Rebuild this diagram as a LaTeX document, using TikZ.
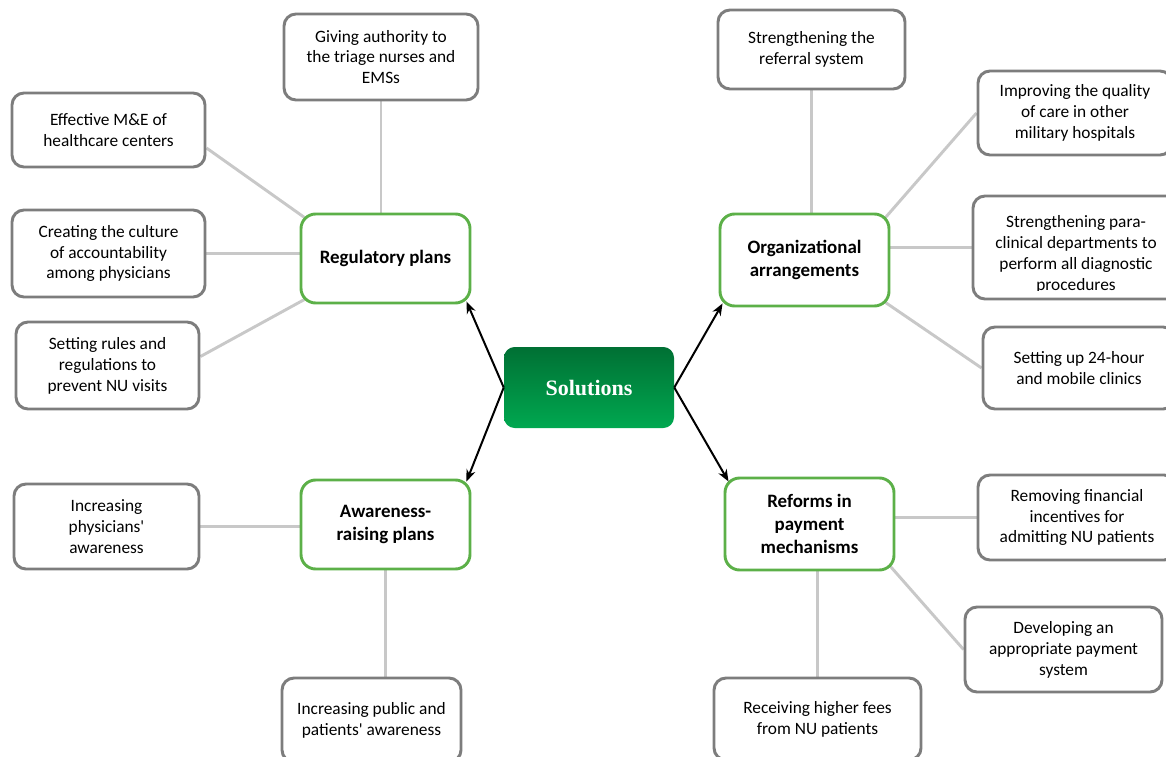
\documentclass[tikz,border=0pt]{standalone}
\usepackage{fontspec}
\setmainfont{Carlito}
\newfontfamily\solfont{Liberation Serif}
\usetikzlibrary{calc,arrows.meta}
\pgfdeclarelayer{background}
\pgfsetlayers{background,main}
\definecolor{boxgray}{RGB}{125,125,125}
\definecolor{linegray}{RGB}{200,200,200}
\definecolor{plangreen}{RGB}{92,176,72}
\definecolor{soldark}{RGB}{0,112,52}
\definecolor{sollight}{RGB}{0,168,80}
\newcommand{\sq}{\textquotesingle}
\tikzset{
  sz/.style 2 args={minimum width=#1*0.75pt, minimum height=#2*0.75pt},
  gbox/.style={draw=boxgray, line width=2.2pt, rounded corners=9pt, fill=white,
    align=center, inner sep=0pt, font=\fontsize{13}{15.7}\selectfont},
  pbox/.style={draw=plangreen, line width=2.2pt, rounded corners=11pt, fill=white,
    align=center, inner sep=0pt, font=\fontsize{14.2}{17.4}\selectfont\bfseries},
  solbox/.style={rounded corners=8pt, top color=soldark, bottom color=sollight,
    text=white, inner sep=0pt, font=\fontsize{16.5}{19}\selectfont\solfont\bfseries},
  conn/.style={draw=linegray, line width=2.2pt},
  arr/.style={draw=black, line width=1.5pt, -{Stealth[length=9pt,width=7pt]}}
}
\begin{document}
\begin{tikzpicture}[x=0.75pt,y=-0.75pt]
\useasboundingbox (0,0) rectangle (1166,756);
\clip (0,0) rectangle (1166,756);
% central node
\node[solbox, sz={170}{81}] (sol) at (589,387.5) {Solutions};
% plan nodes
\node[pbox, sz={169}{89}] (reg) at (385.5,258.5) {Regulatory plans};
\node[pbox, sz={169}{92}] (org) at (804.5,260) {Organizational\\arrangements};
\node[pbox, sz={169}{89}] (awa) at (385.5,524.5) {Awareness-\\raising plans};
\node[pbox, sz={169}{92}] (refm) at (809.5,524) {Reforms in\\payment\\mechanisms};
% gray boxes
\node[gbox, sz={194}{86}] (giv) at (381,57) {Giving authority to\\the triage nurses and\\EMSs};
\node[gbox, sz={193}{74}] (em) at (108.5,130) {Effective M\&E of\\healthcare centers};
\node[gbox, sz={193}{87}] (cul) at (108.5,253.5) {Creating the culture\\of accountability\\among physicians};
\node[gbox, sz={183}{87}] (rul) at (107.5,365.5) {Setting rules and\\regulations to\\prevent NU visits};
\node[gbox, sz={185}{85}] (phy) at (106.5,526.5) {Increasing\\physicians\sq\\awareness};
\node[gbox, sz={179}{84}] (pub) at (371.5,720) {Increasing public and\\patients\sq{} awareness};
\node[gbox, sz={187}{79}] (ref) at (811.5,49.5) {Strengthening the\\referral system};
\node[gbox, sz={194}{84}] (imp) at (1075,113) {Improving the quality\\of care in other\\military hospitals};
\node[gbox, sz={207}{103}] (pc) at (1076.5,247.5) {};
\begin{scope}
  \clip (975,198) rectangle (1180,290);
  \node[align=center, inner sep=0pt, font=\fontsize{13}{15.7}\selectfont] (pctext) at (1076,254)
    {Strengthening para-\\clinical departments to\\perform all diagnostic\\procedures};
\end{scope}
\node[gbox, sz={192}{82}] (setu) at (1079,368) {Setting up 24-hour\\and mobile clinics};
\node[gbox, sz={198}{85}] (rem) at (1077,517.5) {Removing financial\\incentives for\\admitting NU patients};
\node[gbox, sz={197}{85}] (dev) at (1063.5,649.5) {Developing an\\appropriate payment\\system};
\node[gbox, sz={207}{82}] (rec) at (817.5,719) {Receiving higher fees\\from NU patients};
% connectors
\begin{pgfonlayer}{background}
\draw[conn] (giv.south) -- (giv.south |- reg.north);
\draw[conn] ($(em.east)+(0,18)$) -- ($(reg.north west)+(5,5)$);
\draw[conn] (cul.east) -- (cul.east -| reg.west);
\draw[conn] ($(rul.east)+(0,-9)$) -- ($(reg.south west)+(5,-5)$);
\draw[conn] (phy.east) -- (phy.east -| awa.west);
\draw[conn] (awa.south) -- (awa.south |- pub.north);
\draw[conn] (ref.south) -- (ref.south |- org.north);
\draw[conn] ($(org.north east)+(-5,5)$) -- (imp.west);
\draw[conn] (pc.west) -- (pc.west -| org.east);
\draw[conn] ($(org.south east)+(-5,-5)$) -- (setu.west);
\draw[conn] (rem.west) -- (rem.west -| refm.east);
\draw[conn] ($(refm.south east)+(-5,-5)$) -- (dev.west);
\draw[conn] (rec.north) -- (rec.north |- refm.south);
\end{pgfonlayer}
% arrows
\draw[arr] (sol.west) -- ($(reg.south east)+(-5,-3)$);
\draw[arr] (sol.west) -- ($(awa.north east)+(-5,3)$);
\draw[arr] (sol.east) -- ($(org.south west)+(4,-4)$);
\draw[arr] (sol.east) -- ($(refm.north west)+(5,5)$);
\end{tikzpicture}
\end{document}
